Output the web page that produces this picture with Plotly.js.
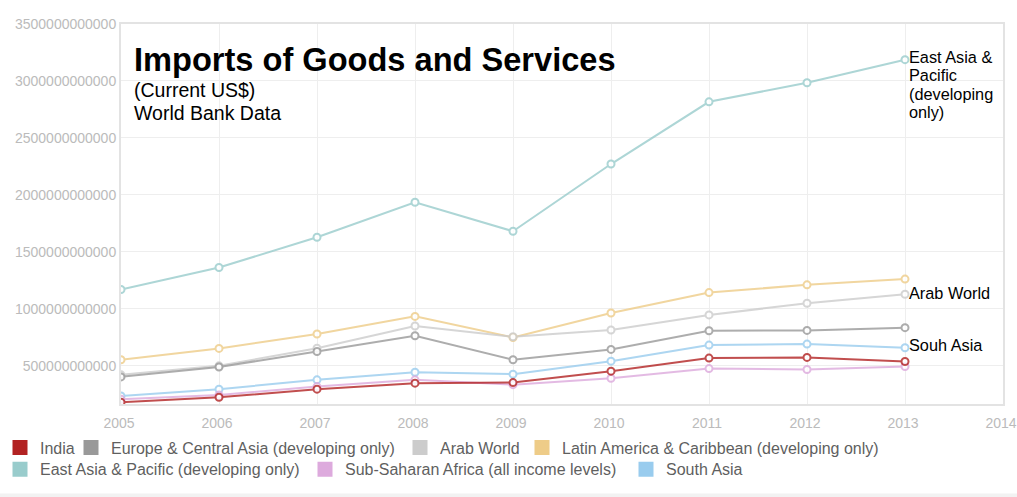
<!DOCTYPE html>
<html>
<head>
<meta charset="utf-8">
<script src="https://cdn.plot.ly/plotly-3.0.1.min.js"></script>
<style>
html,body{margin:0;padding:0;background:#fff;}
#chart{width:1017px;height:497px;}
</style>
</head>
<body>
<div id="chart"></div>
<script>
const years = [2005, 2006, 2007, 2008, 2009, 2010, 2011, 2012, 2013];

const seriesNames = [
  "India",
  "Europe & Central Asia (developing only)",
  "Arab World",
  "Latin America & Caribbean (developing only)",
  "East Asia & Pacific (developing only)",
  "Sub-Saharan Africa (all income levels)",
  "South Asia"
];

const seriesColors = ["#b22222", "#999999", "#cccccc", "#eecc88", "#99cccc", "#ddaadd", "#99ccee"];

const india      = [180e9, 224e9, 295e9, 348e9, 353e9, 453e9, 568e9, 574e9, 538e9];
const europeCA   = [403e9, 490e9, 626e9, 764e9, 553e9, 644e9, 808e9, 811e9, 835e9];
const arabWorld  = [421e9, 500e9, 655e9, 850e9, 755e9, 814e9, 947e9, 1049e9, 1128e9];
const latinAm    = [553e9, 653e9, 779e9, 934e9, 749e9, 964e9, 1143e9, 1211e9, 1261e9];
const eastAsia   = [1170e9, 1363e9, 1628e9, 1936e9, 1681e9, 2271e9, 2817e9, 2984e9, 3187e9];
const subSaharan = [206e9, 244e9, 318e9, 377e9, 335e9, 391e9, 476e9, 468e9, 494e9];
const southAsia  = [236e9, 295e9, 377e9, 444e9, 427e9, 541e9, 682e9, 691e9, 659e9];

const seriesValues = [india, europeCA, arabWorld, latinAm, eastAsia, subSaharan, southAsia];

// end-of-line labels (one entry per text line)
const endLabelLines = [
  {idx: 4, text: "East Asia &amp;"},
  {idx: 4, text: "Pacific"},
  {idx: 4, text: "(developing"},
  {idx: 4, text: "only)"},
  {idx: 2, text: "Arab World"},
  {idx: 6, text: "Souh Asia"}
];

const titleMain = "Imports of Goods and Services";
const titleSub1 = "(Current US$)";
const titleSub2 = "World Bank Data";

// ---- layout-only settings ----
const font = "Liberation Sans, Arial, sans-serif";
const endLabelShift = [3, -15.6, -34.2, -52.8, 1, 3];
// legend entry placement in container pixels: [left x of entry, centre y of row]
const legendPos = [[-3, 447.7], [71, 447.7], [400, 447.7], [522, 447.7],
                   [-3, 469.3], [305, 469.3], [626, 469.3]];
const W = 1017, H = 497;

const traces = [];
const drawOrder = [4, 3, 2, 1, 6, 5, 0];
drawOrder.forEach(i => {
  traces.push({
    type: "scatter",
    mode: "lines+markers",
    x: years,
    y: seriesValues[i],
    name: seriesNames[i],
    showlegend: false,
    opacity: 0.8,
    line: {color: seriesColors[i], width: 2},
    marker: {symbol: "circle", size: 7, color: "#ffffff", line: {color: seriesColors[i], width: 2}},
    hoverinfo: "x+y+name"
  });
});
// legend entries (square swatches), each in its own legend box
const legendIds = seriesNames.map((n, i) => i === 0 ? "legend" : "legend" + (i + 1));
seriesNames.forEach((n, i) => {
  traces.push({
    type: "scatter",
    mode: "markers",
    x: [null],
    y: [null],
    name: n,
    legend: legendIds[i],
    showlegend: true,
    marker: {symbol: "square", size: 15, color: seriesColors[i], line: {width: 0}},
    hoverinfo: "skip"
  });
});

const annotations = [
  {xref: "paper", yref: "paper", x: 0.012, y: 0.9066, xanchor: "left", yanchor: "middle",
   text: "<b>" + titleMain + "</b>", showarrow: false, align: "left",
   font: {family: font, size: 32.6, color: "#000"}},
  {xref: "paper", yref: "paper", x: 0.012, y: 0.8258, xanchor: "left", yanchor: "middle",
   text: titleSub1, showarrow: false, align: "left",
   font: {family: font, size: 19.5, color: "#000"}},
  {xref: "paper", yref: "paper", x: 0.012, y: 0.7671, xanchor: "left", yanchor: "middle",
   text: titleSub2, showarrow: false, align: "left",
   font: {family: font, size: 19.5, color: "#000"}}
];
endLabelLines.forEach((l, k) => {
  const vals = seriesValues[l.idx];
  annotations.push({
    x: years[years.length - 1],
    y: vals[vals.length - 1],
    xref: "x", yref: "y",
    text: l.text, showarrow: false, align: "left",
    xanchor: "left", yanchor: "middle", xshift: 2, yshift: endLabelShift[k],
    font: {family: font, size: 16.3, color: "#000"}
  });
});

const layout = {
  width: W,
  height: H,
  margin: {l: 121, r: 14, t: 24, b: 93, pad: 0},
  paper_bgcolor: "#ffffff",
  plot_bgcolor: "#ffffff",
  font: {family: font, size: 14, color: "#bbbbbb"},
  xaxis: {
    range: [2005, 2014],
    tickmode: "linear", tick0: 2005, dtick: 1,
    showgrid: true, gridcolor: "#eeeeee", gridwidth: 1,
    zeroline: false,
    showline: true, linecolor: "#e3e3e3", linewidth: 2, mirror: true,
    ticks: "", ticklen: 0,
    ticklabelstandoff: 5,
    ticklabelshift: -2,
    ticklabeloverflow: "allow",
    tickfont: {family: font, size: 14, color: "#bbbbbb"},
    fixedrange: true, automargin: false
  },
  yaxis: {
    range: [165e9, 3500e9],
    tickmode: "linear", tick0: 0, dtick: 500e9,
    tickformat: "d",
    showgrid: true, gridcolor: "#eeeeee", gridwidth: 1,
    zeroline: false,
    showline: true, linecolor: "#e3e3e3", linewidth: 2, mirror: true,
    ticks: "", ticklen: 0,
    ticklabeloverflow: "allow",
    tickfont: {family: font, size: 14, color: "#bbbbbb"},
    fixedrange: true, automargin: false
  },
  annotations: annotations,
  shapes: [
    {type: "rect", xref: "paper", yref: "paper", x0: -0.1372, x1: 1.0159, y0: -0.2447, y1: -0.2355,
     fillcolor: "#f2f2f2", line: {width: 0}, layer: "below"}
  ],
  showlegend: true
};
legendIds.forEach((id, i) => {
  layout[id] = {
    orientation: "h",
    xref: "container", yref: "container",
    x: legendPos[i][0] / W,
    y: (H - legendPos[i][1]) / H,
    xanchor: "left",
    yanchor: "middle",
    font: {family: font, size: 16, color: "#5f5f5f"},
    itemsizing: "trace",
    bgcolor: "rgba(0,0,0,0)",
    borderwidth: 0
  };
});

Plotly.newPlot("chart", traces, layout, {displayModeBar: false, staticPlot: true});
</script>
</body>
</html>
